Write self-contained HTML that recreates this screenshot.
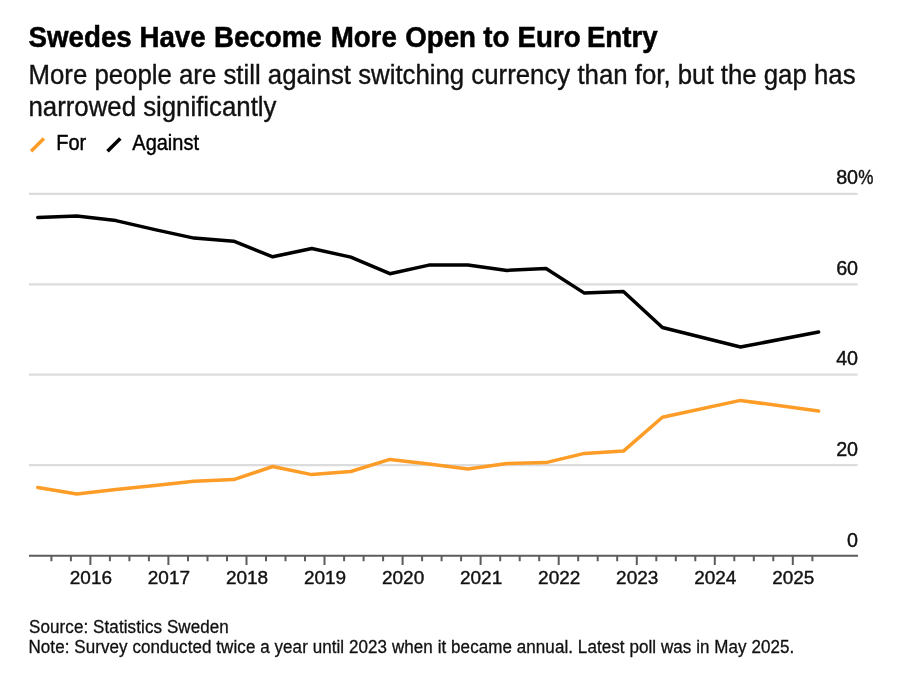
<!DOCTYPE html>
<html><head><meta charset="utf-8">
<style>
html,body{margin:0;padding:0;background:#fff;}
body{width:900px;height:692px;position:relative;overflow:hidden;font-family:"Liberation Sans",sans-serif;}
svg{position:absolute;left:0;top:0;display:block;will-change:transform;}
text{font-family:"Liberation Sans",sans-serif;}
</style></head>
<body>
<svg width="900" height="692" viewBox="0 0 900 692">
<g stroke="#dcdcdc" stroke-width="2.2"><line x1="29" y1="193.9" x2="857.5" y2="193.9"/><line x1="29" y1="284.3" x2="857.5" y2="284.3"/><line x1="29" y1="374.7" x2="857.5" y2="374.7"/><line x1="29" y1="465.1" x2="857.5" y2="465.1"/></g>
<text transform="translate(858.1,184.4) scale(1.04,1.05)" x="0" y="0" font-size="19" font-weight="normal" fill="#111" stroke="#111" stroke-width="0.4" letter-spacing="0" text-anchor="end">80</text>
<text transform="translate(858.1,274.8) scale(1.04,1.05)" x="0" y="0" font-size="19" font-weight="normal" fill="#111" stroke="#111" stroke-width="0.4" letter-spacing="0" text-anchor="end">60</text>
<text transform="translate(858.1,365.3) scale(1.04,1.05)" x="0" y="0" font-size="19" font-weight="normal" fill="#111" stroke="#111" stroke-width="0.4" letter-spacing="0" text-anchor="end">40</text>
<text transform="translate(858.1,455.7) scale(1.04,1.05)" x="0" y="0" font-size="19" font-weight="normal" fill="#111" stroke="#111" stroke-width="0.4" letter-spacing="0" text-anchor="end">20</text>
<text transform="translate(858.1,546.5) scale(1.04,1.05)" x="0" y="0" font-size="19" font-weight="normal" fill="#111" stroke="#111" stroke-width="0.4" letter-spacing="0" text-anchor="end">0</text>
<text transform="translate(858.3,184.3) scale(0.9,1.05)" x="0" y="0" font-size="19" font-weight="normal" fill="#111" stroke="#111" stroke-width="0.4" letter-spacing="0" text-anchor="start">%</text>
<path stroke="#5c5c5c" stroke-width="2" fill="none" d="M51.4 555.7V561.3M70.9 555.7V561.3M90.4 555.7V565M109.9 555.7V561.3M129.4 555.7V561.3M148.9 555.7V561.3M168.4 555.7V565M188.0 555.7V561.3M207.5 555.7V561.3M227.0 555.7V561.3M246.5 555.7V565M266.0 555.7V561.3M285.5 555.7V561.3M305.0 555.7V561.3M324.5 555.7V565M344.1 555.7V561.3M363.6 555.7V561.3M383.1 555.7V561.3M402.6 555.7V565M422.1 555.7V561.3M441.6 555.7V561.3M461.1 555.7V561.3M480.6 555.7V565M500.2 555.7V561.3M519.7 555.7V561.3M539.2 555.7V561.3M558.7 555.7V565M578.2 555.7V561.3M597.7 555.7V561.3M617.2 555.7V561.3M636.8 555.7V565M656.3 555.7V561.3M675.8 555.7V561.3M695.3 555.7V561.3M714.8 555.7V565M734.3 555.7V561.3M753.8 555.7V561.3M773.3 555.7V561.3M792.8 555.7V565M812.4 555.7V561.3"/>
<line x1="29" y1="555.7" x2="858" y2="555.7" stroke="#5c5c5c" stroke-width="2"/>
<text transform="translate(90.9,584.0) scale(1.0,0.97)" x="0" y="0" font-size="19.0" font-weight="normal" fill="#111" stroke="#111" stroke-width="0.4" letter-spacing="0" text-anchor="middle">2016</text>
<text transform="translate(168.9,584.0) scale(1.0,0.97)" x="0" y="0" font-size="19.0" font-weight="normal" fill="#111" stroke="#111" stroke-width="0.4" letter-spacing="0" text-anchor="middle">2017</text>
<text transform="translate(247.0,584.0) scale(1.0,0.97)" x="0" y="0" font-size="19.0" font-weight="normal" fill="#111" stroke="#111" stroke-width="0.4" letter-spacing="0" text-anchor="middle">2018</text>
<text transform="translate(325.0,584.0) scale(1.0,0.97)" x="0" y="0" font-size="19.0" font-weight="normal" fill="#111" stroke="#111" stroke-width="0.4" letter-spacing="0" text-anchor="middle">2019</text>
<text transform="translate(403.1,584.0) scale(1.0,0.97)" x="0" y="0" font-size="19.0" font-weight="normal" fill="#111" stroke="#111" stroke-width="0.4" letter-spacing="0" text-anchor="middle">2020</text>
<text transform="translate(481.1,584.0) scale(1.0,0.97)" x="0" y="0" font-size="19.0" font-weight="normal" fill="#111" stroke="#111" stroke-width="0.4" letter-spacing="0" text-anchor="middle">2021</text>
<text transform="translate(559.2,584.0) scale(1.0,0.97)" x="0" y="0" font-size="19.0" font-weight="normal" fill="#111" stroke="#111" stroke-width="0.4" letter-spacing="0" text-anchor="middle">2022</text>
<text transform="translate(637.2,584.0) scale(1.0,0.97)" x="0" y="0" font-size="19.0" font-weight="normal" fill="#111" stroke="#111" stroke-width="0.4" letter-spacing="0" text-anchor="middle">2023</text>
<text transform="translate(715.3,584.0) scale(1.0,0.97)" x="0" y="0" font-size="19.0" font-weight="normal" fill="#111" stroke="#111" stroke-width="0.4" letter-spacing="0" text-anchor="middle">2024</text>
<text transform="translate(793.3,584.0) scale(1.0,0.97)" x="0" y="0" font-size="19.0" font-weight="normal" fill="#111" stroke="#111" stroke-width="0.4" letter-spacing="0" text-anchor="middle">2025</text>
<polyline fill="none" stroke="#000" stroke-width="3.5" stroke-linejoin="round" stroke-linecap="round" points="37.8,217.4 76.8,216.1 115.9,220.6 154.9,229.6 194.0,238.1 233.7,241.2 272.7,256.8 311.8,248.5 350.8,257.1 389.9,273.7 428.9,265.1 467.9,265.1 507.0,270.4 546.0,268.5 584.4,293.1 623.4,291.5 662.4,327.5 740.5,347.0 818.6,332.0"/>
<polyline fill="none" stroke="#fd9c26" stroke-width="3.5" stroke-linejoin="round" stroke-linecap="round" points="37.8,487.5 76.8,493.9 115.9,489.4 154.9,485.4 194.0,481.3 233.7,479.6 272.7,466.5 311.8,474.6 350.8,471.5 389.9,459.4 428.9,464.1 467.9,469.0 507.0,463.5 546.0,462.6 584.4,453.4 623.4,451.1 662.4,417.2 740.5,400.4 818.6,411.1"/>
<line x1="31.1" y1="151.3" x2="43.9" y2="138.4" stroke="#fd9c26" stroke-width="3.5"/>
<line x1="107.5" y1="151.3" x2="120.3" y2="138.4" stroke="#000" stroke-width="3.5"/>
<text transform="translate(28.6,47.3) scale(1.0,1.05)" x="0" y="0" font-size="27.7" font-weight="bold" fill="#000" stroke="#000" stroke-width="0.5" letter-spacing="0" text-anchor="start">Swedes Have <tspan dx="0.7">Become</tspan> <tspan dx="1.2">More</tspan> <tspan dx="0.7">Open</tspan> <tspan dx="-0.3">to</tspan> <tspan dx="0.4">Euro</tspan> <tspan dx="-1.5">Entry</tspan></text>
<text transform="translate(28.5,83.9) scale(1.0,1.05)" x="0" y="0" font-size="25.8" font-weight="normal" fill="#111" stroke="#111" stroke-width="0.35" letter-spacing="0" text-anchor="start">More people are still against switching currency than for, but the gap has</text>
<text transform="translate(28.5,116.3) scale(1.0,1.05)" x="0" y="0" font-size="25.8" font-weight="normal" fill="#111" stroke="#111" stroke-width="0.35" letter-spacing="0" text-anchor="start">narrowed significantly</text>
<text transform="translate(56.3,150.4) scale(1.0,1.08)" x="0" y="0" font-size="20" font-weight="normal" fill="#000" stroke="#000" stroke-width="0.4" letter-spacing="0" text-anchor="start">For</text>
<text transform="translate(132.3,150.4) scale(1.0,1.08)" x="0" y="0" font-size="20" font-weight="normal" fill="#000" stroke="#000" stroke-width="0.4" letter-spacing="0" text-anchor="start">Against</text>
<text transform="translate(29.0,632.6) scale(1.0,1.03)" x="0" y="0" font-size="17.0" font-weight="normal" fill="#111" stroke="#111" stroke-width="0.3" letter-spacing="0.1" text-anchor="start">Source: Statistics Sweden</text>
<text transform="translate(28.5,652.7) scale(1.0,1.03)" x="0" y="0" font-size="17.0" font-weight="normal" fill="#111" stroke="#111" stroke-width="0.3" letter-spacing="0.075" text-anchor="start">Note: Survey conducted twice a year until 2023 when it became annual. Latest poll was in May 2025.</text>
</svg>
</body></html>
